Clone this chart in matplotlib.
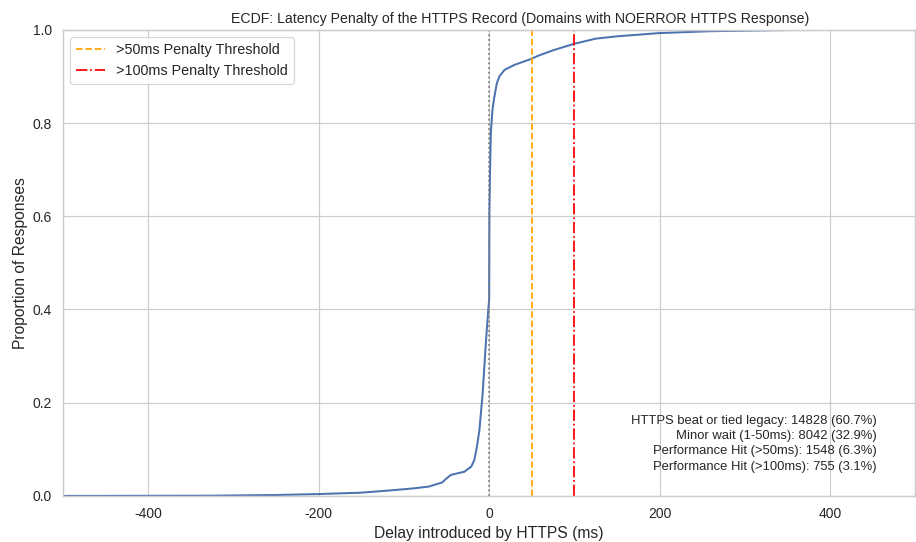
import numpy as np
import matplotlib
matplotlib.use("Agg")
import matplotlib.pyplot as plt
import seaborn as sns

# ECDF of delay (HTTPS - legacy)
delay_ms = [-500, -330, -250, -200, -150, -115, -90, -71, -55, -51, -45, -29,
            -21, -17.4, -14.3, -11.5, -7.6, -3.8, -1, 0, 0.3, 1, 2, 4, 6, 9,
            12, 18, 30, 50, 57, 75, 82, 100, 125, 150, 200, 260, 350, 500]
proportion = [0.0, 0.0005, 0.002, 0.004, 0.007, 0.012, 0.016, 0.020, 0.029,
              0.036, 0.045, 0.052, 0.063, 0.077, 0.106, 0.14, 0.22, 0.33, 0.40,
              0.42, 0.607, 0.69, 0.78, 0.83, 0.855, 0.885, 0.90, 0.914, 0.925,
              0.938, 0.944, 0.956, 0.96, 0.970, 0.981, 0.986, 0.993, 0.997,
              0.9995, 1.0]

thresholds = [50, 100]
threshold_labels = [">50ms Penalty Threshold", ">100ms Penalty Threshold"]

stat_labels = ["HTTPS beat or tied legacy", "Minor wait (1-50ms)",
               "Performance Hit (>50ms)", "Performance Hit (>100ms)"]
stat_counts = [14828, 8042, 1548, 755]
stat_pcts = [60.7, 32.9, 6.3, 3.1]

sns.set_theme(style="whitegrid")
plt.rcParams['font.family'] = ['Liberation Sans', 'DejaVu Sans']
plt.rcParams['axes.unicode_minus'] = False

DPI = 85
fig = plt.figure(figsize=(916 / DPI, 542 / DPI), dpi=DPI)
ax = fig.add_axes([0.069, 0.085, 0.93, 0.86])

ax.plot(delay_ms, proportion, color="#4c72b0", linewidth=1.7)

ax.axvline(0, color="gray", linestyle=":", linewidth=1.5)
ax.axvline(thresholds[0], color="orange", linestyle="--", linewidth=1.5,
           label=threshold_labels[0])
ax.axvline(thresholds[1], color="red", linestyle="-.", linewidth=1.5,
           label=threshold_labels[1])

ax.set_xlim(-500, 500)
ax.set_ylim(0, 1)
ax.set_title("ECDF: Latency Penalty of the HTTPS Record (Domains with NOERROR HTTPS Response)",
             fontsize=12, x=0.536)
ax.set_xlabel("Delay introduced by HTTPS (ms)", fontsize=13.2)
ax.set_ylabel("Proportion of Responses", fontsize=13.2)
ax.tick_params(labelsize=11.8)
ax.legend(loc="upper left", fontsize=12.2)

stats_text = "\n".join(f"{l}: {c} ({p}%)" for l, c, p in zip(stat_labels, stat_counts, stat_pcts))
ax.text(0.955, 0.05, stats_text, transform=ax.transAxes, ha="right", va="bottom",
        fontsize=11, linespacing=1.35)

fig.savefig("out.png", dpi=DPI)
